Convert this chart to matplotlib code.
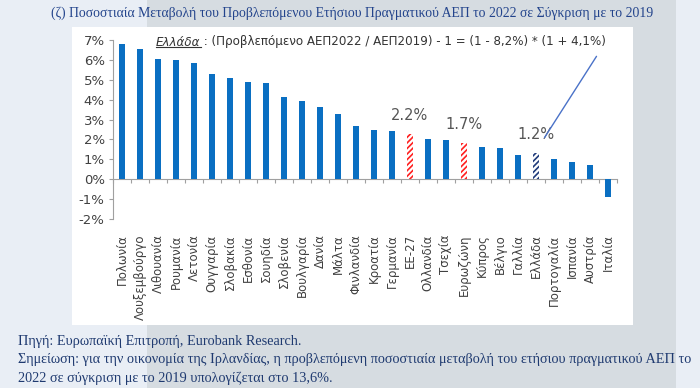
import matplotlib
matplotlib.use('Agg')
import matplotlib.pyplot as plt
from matplotlib.patches import Rectangle
from matplotlib.lines import Line2D

# Data
countries = ['Πολωνία', 'Λουξεμβούργο', 'Λιθουανία', 'Ρουμανία', 'Λετονία', 'Ουγγαρία',
             'Σλοβακία', 'Εσθονία', 'Σουηδία', 'Σλοβενία', 'Βουλγαρία', 'Δανία', 'Μάλτα',
             'Φινλανδία', 'Κροατία', 'Γερμανία', 'ΕΕ-27', 'Ολλανδία', 'Τσεχία', 'Ευρωζώνη',
             'Κύπρος', 'Βέλγιο', 'Γαλλία', 'Ελλάδα', 'Πορτογαλία', 'Ισπανία', 'Αυστρία', 'Ιταλία']
values = [6.8, 6.57, 6.06, 6.0, 5.83, 5.31, 5.09, 4.91, 4.86, 4.12, 3.94, 3.65, 3.27,
          2.66, 2.45, 2.4, 2.29, 2.04, 1.99, 1.84, 1.64, 1.59, 1.24, 1.31, 1.0, 0.85, 0.72, -0.87]
highlight = {'ΕΕ-27': ('2.2%', '#ff2020'), 'Ευρωζώνη': ('1.7%', '#ff2020'), 'Ελλάδα': ('1.2%', '#1f3a7a')}
yticks = list(range(-2, 8))

title = ('(ζ) Ποσοστιαία Μεταβολή του Προβλεπόμενου Ετήσιου Πραγματικού ΑΕΠ '
         'το 2022 σε Σύγκριση με το 2019')
note_lines = ['Πηγή: Ευρωπαϊκή Επιτροπή, Eurobank Research.',
              'Σημείωση: για την οικονομία της Ιρλανδίας, η προβλεπόμενη ποσοστιαία μεταβολή '
              'του ετήσιου πραγματικού ΑΕΠ το',
              '2022 σε σύγκριση με το 2019 υπολογίζεται στο 13,6%.']
formula = ' : (Προβλεπόμενο ΑΕΠ2022 / ΑΕΠ2019) - 1 = (1 - 8,2%) * (1 + 4,1%)'

plt.rcParams['hatch.linewidth'] = 1.2
fig = plt.figure(figsize=(7, 3.88), dpi=100)
fig.patch.set_facecolor('#e9eef5')

# page background pieces
fig.patches.append(Rectangle((147/700, 0), (676-147)/700, 1, transform=fig.transFigure,
                             facecolor='#d6dce1', edgecolor='none', zorder=-2))
fig.patches.append(Rectangle((72/700, 1-325/388), (633-72)/700, (325-27)/388,
                             transform=fig.transFigure, facecolor='white',
                             edgecolor='none', zorder=-1))

fig.text(352/700, 1-13/388, title, ha='center', va='center', fontsize=9.9,
         family='Liberation Serif', color='#23448c')
for i, line in enumerate(note_lines):
    fig.text(18/700, 1-(341+18.5*i)/388, line, ha='left', va='center', fontsize=10.25,
             family='Liberation Serif', color='#1f3a70')

ax = fig.add_axes([113/700, 1-219/388, 504/700, 179/388])
ax.set_facecolor('none')
x = list(range(len(countries)))
for xi, name, v in zip(x, countries, values):
    if name in highlight:
        lab, col = highlight[name]
        ax.bar(xi, v, width=0.38, facecolor='white', edgecolor=col, hatch='//////', linewidth=0)
        ax.text(xi, v + 0.55, lab, ha='center', va='bottom', fontsize=10.5, color='#555555')
    else:
        ax.bar(xi, v, width=0.38, color='#0a6fc2')

ax.set_xlim(-0.5, len(countries) - 0.5)
ax.set_ylim(-2, 7)
ax.set_yticks(yticks)
ax.set_yticklabels([f'{t}%' for t in yticks], fontsize=9.5, color='#404040')
ax.set_xticks(x)
ax.set_xticklabels(countries, rotation=90, fontsize=8.5, color='#404040')
ax.tick_params(axis='x', length=0, pad=11)
ax.tick_params(axis='y', length=3, color='#a0a0a0', pad=3)
for s in ['top', 'right', 'bottom']:
    ax.spines[s].set_visible(False)
ax.spines['left'].set_color('#a0a0a0')

# zero line with category-boundary ticks
sec = ax.secondary_xaxis(2/9)
sec.set_xticks([i - 0.5 for i in range(len(countries) + 1)])
sec.set_xticklabels([])
sec.tick_params(length=3, color='#a0a0a0')
sec.spines['bottom'].set_color('#a0a0a0')

# formula note for Greece
t1 = fig.text(156/700, 1-42/388, 'Ελλάδα', ha='left', va='center',
              fontsize=8.6, style='italic', color='#333333')
fig.canvas.draw()
bb = t1.get_window_extent().transformed(fig.transFigure.inverted())
fig.add_artist(Line2D([bb.x0, bb.x1], [bb.y0 + 0.004, bb.y0 + 0.004], color='#333333', lw=0.8))
fig.text(bb.x1, 1-42/388, formula, ha='left', va='center', fontsize=8.6, color='#333333')
ax.annotate('', xy=(543/700, 1-140/388), xytext=(598/700, 1-54/388),
            xycoords='figure fraction', textcoords='figure fraction',
            arrowprops=dict(arrowstyle='-', color='#4a72c8', lw=1))

fig.savefig('out.png', dpi=100, facecolor=fig.get_facecolor())
